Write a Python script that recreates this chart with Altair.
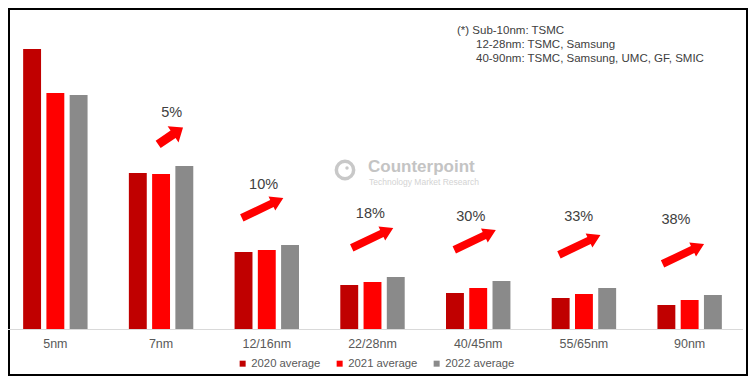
import altair as alt
import pandas as pd

# ---- data ----
nodes = ["5nm", "7nm", "12/16nm", "22/28nm", "40/45nm", "55/65nm", "90nm"]
years = ["2020 average", "2021 average", "2022 average"]
avg_2020 = [280, 156, 77, 44, 36, 31, 24]
avg_2021 = [236, 155, 79, 47, 41, 35, 29]
avg_2022 = [234, 163, 84, 52, 48, 41, 34]

growth_labels = ["5%", "10%", "18%", "30%", "33%", "38%"]
label_pos = [1.10, 1.97, 2.98, 3.93, 4.95, 5.87]      # in category units
label_height = [216, 144, 115, 112, 112, 109]          # in value units
arrow_pos = [1.09, 1.96, 3.00, 3.97, 4.96, 5.94]
arrow_height = [193, 121, 91, 89, 84, 75]

note_lines = ["(*) Sub-10nm: TSMC", "12-28nm: TSMC, Samsung", "40-90nm: TSMC, Samsung, UMC, GF, SMIC"]
brand = ["Counterpoint", "Technology Market Research"]

colors = ["#C00000", "#FF0000", "#8A8A8A"]

rows = []
for i, n in enumerate(nodes):
    for yr, vals in zip(years, [avg_2020, avg_2021, avg_2022]):
        rows.append({"node": n, "year": yr, "value": vals[i]})
df = pd.DataFrame(rows)

ann = pd.DataFrame({"label": growth_labels, "pos": label_pos, "h": label_height})
arr = pd.DataFrame({"node": nodes[1:], "pos": arrow_pos, "h": arrow_height})

W, H = 740, 368
XR = [-5.5, 734.5]
FONT = "Liberation Sans"

yscale = alt.Scale(domain=[-47, 321], nice=False, zero=False)
qx = alt.Scale(domain=[-0.5, 6.5], range=XR, nice=False, zero=False)

bars = alt.Chart(df).mark_bar().encode(
    x=alt.X("node:N", sort=nodes,
            scale=alt.Scale(range=XR, paddingInner=0.34, paddingOuter=0.17),
            axis=alt.Axis(title=None, labelAngle=0, offset=-47, ticks=False, labelPadding=8,
                          domainColor="#d9d9d9", domainWidth=1, labelFontSize=12.5,
                          labelColor="#595959", labelFont=FONT)),
    xOffset=alt.XOffset("year:N", sort=years, scale=alt.Scale(paddingInner=0.23, paddingOuter=0.115)),
    y=alt.Y("value:Q", scale=yscale, axis=None),
    color=alt.Color("year:N", sort=years, scale=alt.Scale(domain=years, range=colors),
                    legend=alt.Legend(orient="none", legendX=229, legendY=350, direction="horizontal",
                                      title=None, symbolType="square", symbolSize=36,
                                      labelFontSize=11.3, labelColor="#595959", labelFont=FONT,
                                      columnPadding=13, labelOffset=3, padding=0,
                                      symbolStrokeWidth=0)),
)

pct = alt.Chart(ann).mark_text(fontSize=14.5, color="#404040", font=FONT, baseline="middle").encode(
    x=alt.X("pos:Q", scale=qx, axis=None),
    y=alt.Y("h:Q", scale=yscale, axis=None),
    text="label:N",
)

ARROW_LONG = "M -1 -0.17 L 0.45 -0.17 L 0.45 -0.34 L 1 0 L 0.45 0.34 L 0.45 0.17 L -1 0.17 Z"
ARROW_SHORT = "M -1 -0.3 L 0.2 -0.3 L 0.2 -0.65 L 1 0 L 0.2 0.65 L 0.2 0.3 L -1 0.3 Z"

arrows_long = alt.Chart(arr).transform_filter(alt.datum.node != "7nm").mark_point(
    shape=ARROW_LONG, filled=True, color="#FF0000", size=2116, angle=334.5, opacity=1, strokeWidth=0
).encode(
    x=alt.X("pos:Q", scale=qx, axis=None),
    y=alt.Y("h:Q", scale=yscale, axis=None),
)
arrow_short = alt.Chart(arr).transform_filter(alt.datum.node == "7nm").mark_point(
    shape=ARROW_SHORT, filled=True, color="#FF0000", size=900, angle=326, opacity=1, strokeWidth=0
).encode(
    x=alt.X("pos:Q", scale=qx, axis=None),
    y=alt.Y("h:Q", scale=yscale, axis=None),
)

note1 = alt.Chart(pd.DataFrame({"t": [note_lines[0]]})).mark_text(
    align="left", baseline="middle", fontSize=11.5, color="#404040", font=FONT
).encode(text="t:N", x=alt.value(449), y=alt.value(23))
note2 = alt.Chart(pd.DataFrame({"t": ["\n".join(note_lines[1:])]})).mark_text(
    align="left", baseline="middle", fontSize=11.5, color="#404040", font=FONT,
    lineBreak="\n", lineHeight=14.5
).encode(text="t:N", x=alt.value(468), y=alt.value(36.5))

logo_ring = alt.Chart(pd.DataFrame({"k": [0]})).mark_point(
    shape="circle", filled=False, stroke="#c8c8c8", strokeWidth=3.5, size=300, opacity=1
).encode(x=alt.value(337), y=alt.value(162))
logo_dot = alt.Chart(pd.DataFrame({"k": [0]})).mark_point(
    shape="circle", filled=True, color="#c8c8c8", size=12, opacity=1
).encode(x=alt.value(339), y=alt.value(160))
brand1 = alt.Chart(pd.DataFrame({"t": [brand[0]]})).mark_text(
    align="left", baseline="middle", fontSize=17, fontWeight="bold", color="#c4c4c4", font=FONT
).encode(text="t:N", x=alt.value(360), y=alt.value(159))
brand2 = alt.Chart(pd.DataFrame({"t": [brand[1]]})).mark_text(
    align="left", baseline="middle", fontSize=8.5, color="#d3d3d3", font=FONT
).encode(text="t:N", x=alt.value(361), y=alt.value(174))

chart = alt.layer(
    bars, pct, arrows_long, arrow_short, note1, note2, logo_ring, logo_dot, brand1, brand2
).resolve_scale(x="independent").properties(
    width=W, height=H, padding=0, autosize="none"
).configure(background="white").configure_view(stroke="black", strokeWidth=4)

chart.save("out.html", embed_options={"renderer": "svg", "actions": False})
